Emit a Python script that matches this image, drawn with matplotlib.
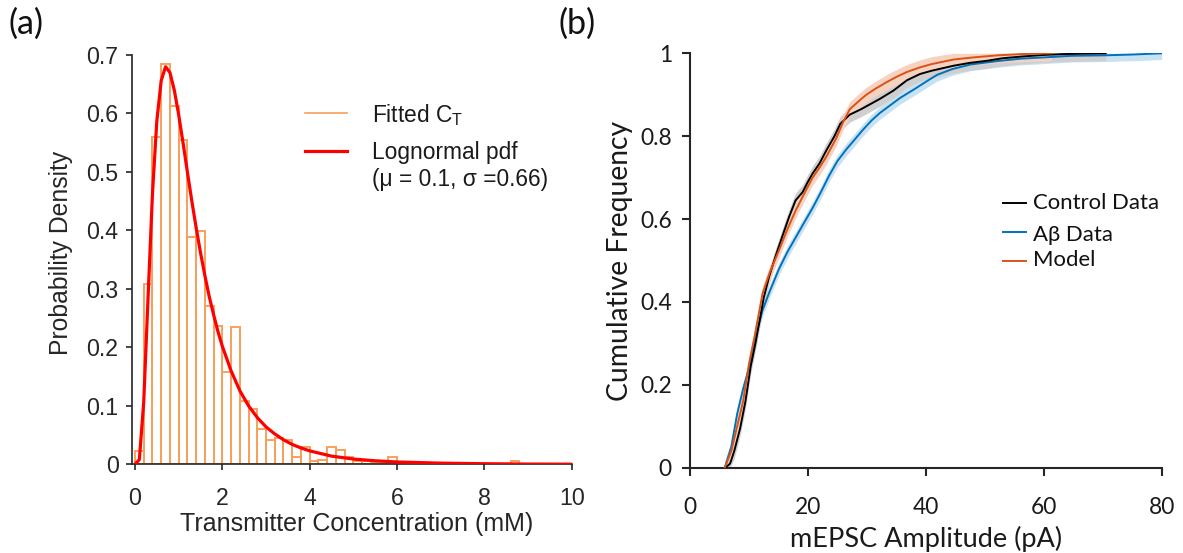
import numpy as np
import matplotlib
matplotlib.use("Agg")
import matplotlib.pyplot as plt

# ---------------- data: panel (a) ----------------
bin_width = 0.2
hist_left_edges = [0.0, 0.2, 0.4, 0.6, 0.8, 1.0, 1.2, 1.4, 1.6, 1.8,
                   2.0, 2.2, 2.4, 2.6, 2.8, 3.0, 3.2, 3.4, 3.6, 3.8,
                   4.0, 4.2, 4.4, 4.6, 4.8, 5.0, 5.2, 5.4, 5.6, 5.8,
                   6.0, 6.2, 6.4, 6.6, 6.8, 7.0, 7.2, 7.4, 7.6, 7.8,
                   8.0, 8.2, 8.4, 8.6]
hist_density = [0.022, 0.308, 0.560, 0.685, 0.613, 0.554, 0.388, 0.399, 0.271, 0.237,
                0.158, 0.234, 0.109, 0.094, 0.060, 0.042, 0.045, 0.042, 0.012, 0.030,
                0.006, 0.008, 0.030, 0.024, 0.012, 0.006, 0.006, 0.002, 0.004, 0.012,
                0.003, 0.002, 0.002, 0.000, 0.002, 0.000, 0.001, 0.000, 0.000, 0.001,
                0.000, 0.000, 0.000, 0.005]

pdf_x = [0.0, 0.1, 0.2, 0.3, 0.4, 0.5, 0.6, 0.7, 0.8, 0.9, 1.0, 1.1, 1.2, 1.3, 1.4,
         1.5, 1.6, 1.7, 1.8, 1.9, 2.0, 2.2, 2.4, 2.6, 2.8, 3.0, 3.2, 3.4, 3.6, 3.8,
         4.0, 4.5, 5.0, 5.5, 6.0, 7.0, 8.0, 9.0, 10.0]
pdf_y = [0.0, 0.008, 0.106, 0.286, 0.462, 0.587, 0.656, 0.680, 0.670, 0.640, 0.598,
         0.550, 0.500, 0.451, 0.405, 0.362, 0.323, 0.287, 0.256, 0.227, 0.202, 0.160,
         0.126, 0.100, 0.080, 0.064, 0.052, 0.042, 0.034, 0.028, 0.023, 0.014, 0.009,
         0.006, 0.004, 0.002, 0.001, 0.0004, 0.0002]

# ---------------- data: panel (b) ----------------
ctrl_x = [6.0, 6.8, 7.5, 8.5, 9.4, 10.3, 11.1, 12.0, 12.5, 13.4, 14.5, 15.7, 16.8,
          17.9, 19.1, 20.0, 20.8, 22.0, 23.1, 24.5, 25.5, 27.1, 29.0, 32.2, 34.5,
          36.8, 39.0, 41.0, 44.7, 47.5, 50.4, 53.0, 56.1, 60.0, 63.0, 66.0, 70.5]
ctrl_y = [0.0, 0.01, 0.04, 0.095, 0.16, 0.245, 0.30, 0.37, 0.41, 0.46, 0.51, 0.56,
          0.605, 0.645, 0.665, 0.69, 0.71, 0.735, 0.765, 0.80, 0.83, 0.852, 0.865,
          0.89, 0.91, 0.935, 0.950, 0.958, 0.970, 0.977, 0.982, 0.988, 0.992, 0.996,
          0.998, 0.999, 1.0]

abeta_x = [5.9, 7.0, 8.0, 9.0, 10.3, 11.2, 12.3, 13.5, 15.1, 16.5, 17.9, 19.3, 20.8,
           22.2, 23.6, 25.0, 26.5, 28.0, 29.3, 30.8, 32.2, 34.0, 35.6, 38.0, 40.2,
           41.9, 44.5, 47.6, 52.0, 56.1, 60.0, 64.7, 70.0, 75.0, 80.0]
abeta_y = [0.0, 0.05, 0.13, 0.19, 0.255, 0.32, 0.38, 0.425, 0.48, 0.52, 0.555, 0.59,
           0.627, 0.665, 0.705, 0.74, 0.768, 0.793, 0.815, 0.838, 0.856, 0.875, 0.892,
           0.913, 0.933, 0.948, 0.962, 0.973, 0.981, 0.987, 0.990, 0.994, 0.995,
           0.997, 1.0]

model_x = [5.9, 7.0, 8.0, 9.0, 10.0, 11.0, 12.3, 13.5, 15.1, 16.5, 17.9, 19.5, 20.8,
           22.0, 23.1, 24.8, 26.0, 27.1, 28.5, 29.9, 31.5, 33.3, 35.0, 36.8, 39.0,
           41.0, 44.7, 48.0, 52.1, 56.0, 61.3]
model_y = [0.0, 0.04, 0.10, 0.16, 0.25, 0.32, 0.42, 0.47, 0.525, 0.575, 0.62, 0.665,
           0.70, 0.725, 0.75, 0.795, 0.835, 0.865, 0.883, 0.90, 0.915, 0.93, 0.943,
           0.955, 0.966, 0.974, 0.985, 0.99, 0.995, 0.998, 1.0]

ctrl_band = 0.018
abeta_band = 0.015
model_band = 0.018

legend_b_labels = ["Control Data", "A\u03b2 Data", "Model"]

# ---------------- styling ----------------
W, H = 1183, 553
fig = plt.figure(figsize=(W / 100, H / 100), dpi=100)
plt.rcParams['mathtext.fontset'] = 'custom'
plt.rcParams['mathtext.rm'] = 'Liberation Sans'
plt.rcParams['mathtext.it'] = 'Liberation Sans:italic'

spine_c = '#262626'
txt_c = '#262626'
fontA = 'Liberation Sans'
fontB = 'Lato'

renderer = fig.canvas.get_renderer()


def size_for(text, family, target_px, rotation=0):
    t = fig.text(0, 0, text, fontsize=20, family=family, rotation=rotation)
    bb = t.get_window_extent(renderer)
    w = bb.height if rotation else bb.width
    t.remove()
    return 20 * target_px / w


# axes positions (pixels)
axA = fig.add_axes([131.7 / W, (H - 464.3) / H, (571.7 - 131.7) / W, (464.3 - 55) / H])
axB = fig.add_axes([690 / W, (H - 467.7) / H, (1161.7 - 690) / W, (467.7 - 53.3) / H])

# ---------------- panel (a) ----------------
hist_color = '#F7A05A'
axA.bar(hist_left_edges, hist_density, width=bin_width, align='edge',
        facecolor='none', edgecolor=hist_color, linewidth=1.4, zorder=2)
axA.plot(pdf_x, pdf_y, color='#FF0000', linewidth=2.3, zorder=3,
         solid_joinstyle='round')
axA.set_xlim(-0.075, 10)
axA.set_ylim(0, 0.7)
axA.set_xticks([0, 2, 4, 6, 8, 10])
axA.set_yticks([0, 0.1, 0.2, 0.3, 0.4, 0.5, 0.6, 0.7])
axA.set_yticklabels(['0', '0.1', '0.2', '0.3', '0.4', '0.5', '0.6', '0.7'])

tickA = size_for('0.7', fontA, 32)
labAx = size_for('Transmitter Concentration (mM)', fontA, 353)
labAy = size_for('Probability Density', fontA, 205, rotation=90)
legA = size_for('Lognormal pdf', fontA, 145)

for sp in ['top', 'right']:
    axA.spines[sp].set_visible(False)
for sp in ['left', 'bottom']:
    axA.spines[sp].set_color(spine_c)
    axA.spines[sp].set_linewidth(1.2)
axA.tick_params(axis='both', direction='out', length=4.5, width=1.2,
                color=spine_c, labelcolor=txt_c, labelsize=tickA)
axA.tick_params(axis='x', pad=11.5)
axA.tick_params(axis='y', pad=5)
for lab in axA.get_xticklabels() + axA.get_yticklabels():
    lab.set_family(fontA)
axA.set_xlabel('Transmitter Concentration (mM)', fontsize=labAx, family=fontA, color=txt_c)
axA.set_ylabel('Probability Density', fontsize=labAy, family=fontA, color=txt_c)
axA.xaxis.set_label_coords(0.511, -0.1166)
axA.yaxis.set_label_coords(-0.133, 0.517)

# legend (a)
axA.plot([0.3936, 0.4897], [0.8585, 0.8585], transform=axA.transAxes,
         color=hist_color, linewidth=1.2, clip_on=False)
axA.plot([0.3936, 0.4897], [0.7659, 0.7659], transform=axA.transAxes,
         color='#FF0000', linewidth=2.3, clip_on=False)
axA.text(0.547, 0.8537, r'Fitted C$_{\mathrm{T}}$', transform=axA.transAxes,
         fontsize=legA, family=fontA, color='#1a1a1a', va='center', ha='left')
axA.text(0.547, 0.761, 'Lognormal pdf', transform=axA.transAxes,
         fontsize=legA, family=fontA, color='#1a1a1a', va='center', ha='left')
axA.text(0.547, 0.695, '(\u03bc = 0.1, \u03c3 =0.66)', transform=axA.transAxes,
         fontsize=legA, family=fontA, color='#1a1a1a', va='center', ha='left')

# ---------------- panel (b) ----------------
c_ctrl = '#000000'
c_abeta = '#0072BD'
c_model = '#D95319'


def band(ax, x, y, err, color):
    y = np.asarray(y)
    ax.fill_between(x, np.clip(y - err, 0, 1), np.clip(y + err, 0, 1),
                    color=color, linewidth=0, zorder=1)


band(axB, abeta_x, abeta_y, abeta_band, '#C9E2F3')
band(axB, ctrl_x, ctrl_y, ctrl_band, '#CFCFCF')
band(axB, model_x, model_y, model_band, '#F6D2C0')
axB.plot(abeta_x, abeta_y, color=c_abeta, linewidth=1.4, zorder=3)
axB.plot(ctrl_x, ctrl_y, color=c_ctrl, linewidth=1.4, zorder=4)
axB.plot(model_x, model_y, color=c_model, linewidth=1.4, zorder=5)

axB.set_xlim(0, 80)
axB.set_ylim(0, 1)
axB.set_xticks([0, 20, 40, 60, 80])
axB.set_yticks([0, 0.2, 0.4, 0.6, 0.8, 1])
axB.set_yticklabels(['0', '0.2', '0.4', '0.6', '0.8', '1'])

tickB = size_for('0.8', fontB, 31.7)
labBx = size_for('mEPSC Amplitude (pA)', fontB, 272)
labBy = size_for('Cumulative Frequency', fontB, 280, rotation=90)
legB = size_for('Control Data', fontB, 126)
panelsz = size_for('(a)', fontB, 35)

for sp in ['top', 'right']:
    axB.spines[sp].set_visible(False)
for sp in ['left', 'bottom']:
    axB.spines[sp].set_color(spine_c)
    axB.spines[sp].set_linewidth(1.5)
axB.tick_params(axis='both', direction='out', length=6, width=1.5,
                color=spine_c, labelcolor='#1a1a1a', labelsize=tickB)
axB.tick_params(axis='x', pad=15)
axB.tick_params(axis='y', pad=7)
for lab in axB.get_xticklabels() + axB.get_yticklabels():
    lab.set_family(fontB)
axB.set_xlabel('mEPSC Amplitude (pA)', fontsize=labBx, family=fontB, color='#1a1a1a')
axB.xaxis.label.set_va('center')
axB.set_ylabel('Cumulative Frequency', fontsize=labBy, family=fontB, color='#1a1a1a')
axB.xaxis.set_label_coords(0.5014, -0.171)
axB.yaxis.set_label_coords(-0.121, 0.5)

# legend (b)
leg_rows_line = [0.6388, 0.5688, 0.5]
leg_rows_text = [0.6388, 0.5615, 0.5]
for lbl, yl, yt, c in zip(legend_b_labels, leg_rows_line, leg_rows_text,
                          [c_ctrl, c_abeta, c_model]):
    axB.plot([0.6636, 0.7123], [yl, yl], transform=axB.transAxes, color=c,
             linewidth=1.4, clip_on=False)
    axB.text(0.7272, yt, lbl, transform=axB.transAxes, fontsize=legB,
             family=fontB, color='#111111', va='center', ha='left')

# panel letters
fig.text(8 / W, 1 - 24 / H, '(a)', fontsize=panelsz, family=fontB, color='#111111',
         ha='left', va='center')
fig.text(559 / W, 1 - 24 / H, '(b)', fontsize=panelsz, family=fontB, color='#111111',
         ha='left', va='center')

fig.savefig('out.png', dpi=100)
